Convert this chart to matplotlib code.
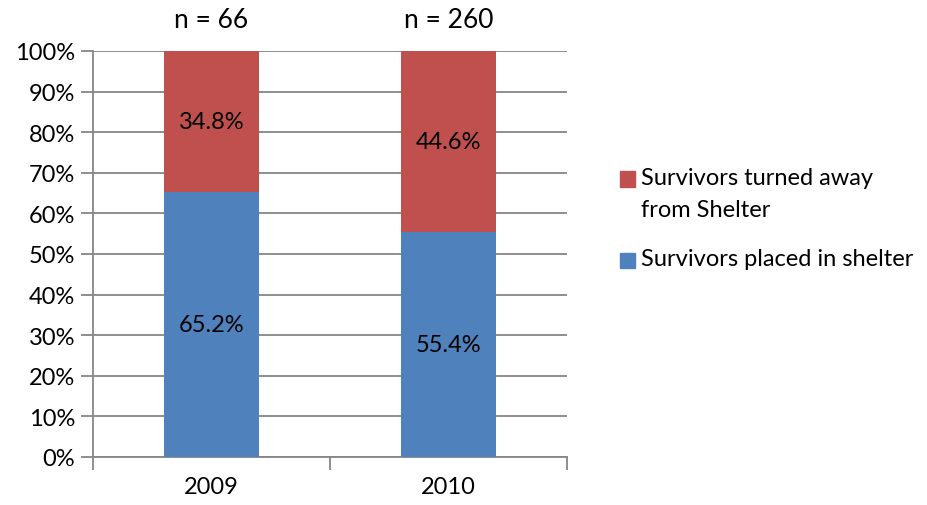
import matplotlib
matplotlib.use("Agg")
import matplotlib.pyplot as plt
from matplotlib.patches import Rectangle
import numpy as np

categories = ["2009", "2010"]
placed = [65.2, 55.4]
turned_away = [34.8, 44.6]
n_labels = ["n = 66", "n = 260"]
series_names = ["Survivors placed in shelter", "Survivors turned away\nfrom Shelter"]
yticks = [0, 10, 20, 30, 40, 50, 60, 70, 80, 90, 100]

plt.rcParams['font.family'] = ['Lato', 'DejaVu Sans']
BLUE = "#4F81BD"
RED = "#C0504D"
GRID = "#868686"
FS = 17
W, H = 927, 506

fig = plt.figure(figsize=(W / 100, H / 100), dpi=100)
ax = fig.add_axes([0.1003, 0.0949, 0.5113, 0.8024])
x = np.arange(len(categories))
ax.bar(x, placed, width=0.4, color=BLUE, zorder=3)
ax.bar(x, turned_away, width=0.4, bottom=placed, color=RED, zorder=3)

for i in range(len(categories)):
    ax.text(x[i], placed[i] / 2, f"{placed[i]:.1f}%", ha="center", va="center", fontsize=FS, zorder=4)
    ax.text(x[i], placed[i] + turned_away[i] / 2, f"{turned_away[i]:.1f}%", ha="center", va="center", fontsize=FS, zorder=4)
    ax.text(x[i], 107.8, n_labels[i], ha="center", va="center", fontsize=19)

ax.set_xlim(-0.5, 1.5)
ax.set_ylim(0, 100)
ax.set_yticks(yticks)
ax.set_yticklabels([f"{v}%" for v in yticks], fontsize=FS)
ax.set_xticks(x)
ax.set_xticklabels(categories, fontsize=FS)
ax.set_xticks([-0.5, 0.5, 1.5], minor=True)
ax.tick_params(axis="x", which="major", length=0, pad=14)
ax.tick_params(axis="x", which="minor", length=9, width=1.3, color=GRID, direction="out")
ax.tick_params(axis="y", length=9, width=1.3, color=GRID, direction="out", pad=4)
ax.yaxis.grid(True, color=GRID, linewidth=1.3, zorder=0)
ax.set_axisbelow(True)
for s in ["top", "right"]:
    ax.spines[s].set_visible(False)
for s in ["left", "bottom"]:
    ax.spines[s].set_color(GRID)
    ax.spines[s].set_linewidth(1.3)

# legend drawn manually (Excel-style: marker aligned with first text line)
legend_items = [(series_names[1], RED, 180), (series_names[0], BLUE, 261)]
for label, color, yc in legend_items:
    fig.add_artist(Rectangle((620 / W, 1 - (yc + 7.5) / H), 15 / W, 15 / H,
                             transform=fig.transFigure, color=color))
    fig.text(641 / W, 1 - (yc - 12) / H, label, ha="left", va="top",
             fontsize=FS, linespacing=1.65)

fig.savefig("out.png", dpi=100)
